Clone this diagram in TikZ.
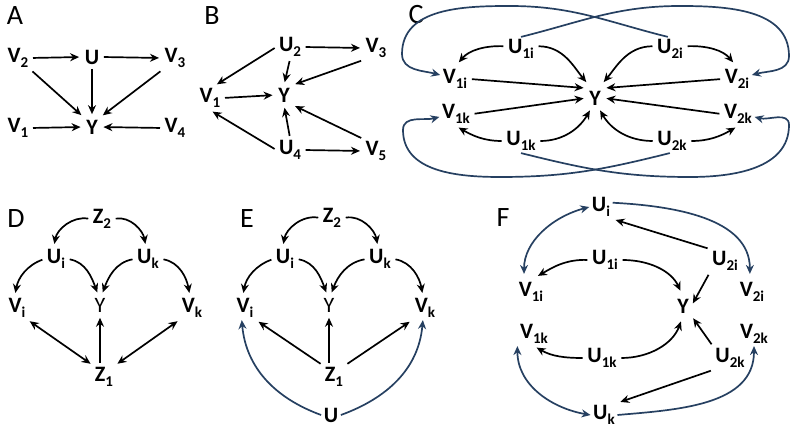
\documentclass[tikz,border=0pt]{standalone}
\usepackage{fontspec}
\setmainfont{Carlito}
\usetikzlibrary{arrows.meta}
\definecolor{bluec}{RGB}{38,64,97}
\newcommand\ssub[1]{\raisebox{-4.5pt}{\fontsize{15}{15}\selectfont #1}}
\tikzset{
  lab/.style={font=\fontsize{28}{28}\selectfont, inner sep=0pt},
  nd/.style={font=\bfseries\fontsize{22}{22}\selectfont, inner sep=2.5pt},
  ndr/.style={font=\fontsize{22}{22}\selectfont, inner sep=2.5pt},
  ar/.style={-{Stealth[length=9pt,width=8pt]}, line width=1.7pt, black, shorten >=3pt, shorten <=2pt},
  dar/.style={{Stealth[length=9pt,width=8pt]}-{Stealth[length=9pt,width=8pt]}, line width=1.7pt, black, shorten >=2pt, shorten <=2pt},
  bar/.style={-{Stealth[length=9pt,width=8pt]}, line width=1.7pt, bluec},
  bdar/.style={{Stealth[length=9pt,width=8pt]}-{Stealth[length=9pt,width=8pt]}, line width=1.7pt, bluec},
}
\begin{document}
\begin{tikzpicture}[x=1pt,y=1pt]
\useasboundingbox (0,0) rectangle (797,430);
% ---------- Panel A
\node[lab] (aLab) at (15,414) {A};
\node[nd] (aV2) at (18,372) {V\ssub{2}};
\node[nd] (aU) at (92,373) {U};
\node[nd] (aV3) at (175,372) {V\ssub{3}};
\node[nd] (aY) at (92,303) {Y};
\node[nd] (aV1) at (18,302) {V\ssub{1}};
\node[nd] (aV4) at (175,302) {V\ssub{4}};
\draw[ar] (aV2.east) -- (aU.west);
\draw[ar] (aU.east) -- (aV3.west);
\draw[ar] (aU.south) -- (aY.north);
\draw[ar] (aV2.south east) -- (aY.north west);
\draw[ar] (aV3.south west) -- (aY.north east);
\draw[ar] (aV1.east) -- (aY.west);
\draw[ar] (aV4.west) -- (aY.east);
% ---------- Panel B
\node[lab] (bLab) at (212,414) {B};
\node[nd] (bU2) at (290,383) {U\ssub{2}};
\node[nd] (bV3) at (376,382) {V\ssub{3}};
\node[nd] (bV1) at (210,332) {V\ssub{1}};
\node[nd] (bY) at (284,335) {Y};
\node[nd] (bU4) at (290,280) {U\ssub{4}};
\node[nd] (bV5) at (376,279) {V\ssub{5}};
\draw[ar] (bU2.east) -- (bV3.west);
\draw[ar] (bU2.west) -- (bV1.70);
\draw[ar] (bU2.south) -- (bY.north);
\draw[ar] (bV3.south west) -- (bY.north east);
\draw[ar] (bV1.east) -- (bY.west);
\draw[ar] (bU4.north) -- (bY.south);
\draw[ar] (bU4.west) -- (bV1.south);
\draw[ar] (bV5.north west) -- (bY.south east);
\draw[ar] (bU4.east) -- (bV5.west);
% ---------- Panel C
\node[lab] (cLab) at (416,415) {C};
\node[nd] (cU1i) at (521,381) {U\ssub{1i}};
\node[nd] (cU2i) at (670,381) {U\ssub{2i}};
\node[nd] (cV1i) at (455,351) {V\ssub{1i}};
\node[nd] (cV2i) at (737,351) {V\ssub{2i}};
\node[nd] (cY) at (595,332) {Y};
\node[nd] (cV1k) at (456,316) {V\ssub{1k}};
\node[nd] (cV2k) at (738,316) {V\ssub{2k}};
\node[nd] (cU1k) at (521,289) {U\ssub{1k}};
\node[nd] (cU2k) at (672,289) {U\ssub{2k}};
\draw[ar,shorten >=6pt] (cU1i.170) to[out=178,in=50] (cV1i.north);
\draw[ar,shorten >=8pt] (cU1i.10) to[out=0,in=130] (cY.110);
\draw[ar,shorten >=8pt] (cU2i.170) to[out=180,in=50] (cY.70);
\draw[ar,shorten >=6pt] (cU2i.10) to[out=2,in=130] (cV2i.north);
\draw[ar] (cV1i.east) -- (cY.north west);
\draw[ar] (cV2i.west) -- (cY.north east);
\draw[ar] (cV1k.east) -- (cY.west);
\draw[ar] (cV2k.west) -- (cY.east);
\draw[ar] (cU1k.west) to[out=180,in=-30] (cV1k.south);
\draw[ar] (cU1k.east) to[out=0,in=-120] (cY.-110);
\draw[ar] (cU2k.west) to[out=180,in=-60] (cY.-70);
\draw[ar] (cU2k.east) to[out=0,in=-150] (cV2k.south);
\draw[bar] (cU1i.north) to[out=14,in=180] (680,424) to[out=0,in=90] (789,374) to[out=-90,in=15] (cV2i.15);
\draw[bar] (cU2i.100) to[out=166,in=0] (510,424) to[out=180,in=90] (402,376) to[out=-90,in=165] (cV1i.165);
\draw[bar] (cU1k.south) to[out=-14,in=180] (690,253) to[out=0,in=-90] (789,305) to[out=90,in=-15] (cV2k.-10);
\draw[bar] (cU2k.-100) to[out=194,in=0] (500,253) to[out=180,in=-90] (403,300) to[out=90,in=-165] (cV1k.190);
% ---------- Panel D
\node[lab] (dLab) at (16,211) {D};
\node[nd] (dZ2) at (102,211) {Z\ssub{2}};
\node[nd] (dUi) at (56,171) {U\ssub{i}};
\node[nd] (dUk) at (148,171) {U\ssub{k}};
\node[nd] (dVi) at (17,122) {V\ssub{i}};
\node[ndr] (dY) at (100,125) {Y};
\node[nd] (dVk) at (192,122) {V\ssub{k}};
\node[nd] (dZ1) at (104,53) {Z\ssub{1}};
\draw[ar] (dZ2.west) to[out=170,in=80] (dUi.100);
\draw[ar] (dZ2.east) to[out=10,in=100] (dUk.100);
\draw[ar] (dUi.west) to[out=200,in=80] (dVi.100);
\draw[ar] (dUi.east) to[out=-10,in=110] (dY.100);
\draw[ar] (dUk.west) to[out=190,in=70] (dY.80);
\draw[ar] (dUk.east) to[out=-10,in=100] (dVk.100);
\draw[dar] (dVi.south east) -- (dZ1.north west);
\draw[ar] (dY.south |- dZ1.north) -- (dY.south);
\draw[dar] (dVk.south west) -- (dZ1.north east);
% ---------- Panel E
\node[lab] (eLab) at (247,211) {E};
\node[nd] (eZ2) at (332,212) {Z\ssub{2}};
\node[nd] (eUi) at (285,171) {U\ssub{i}};
\node[nd] (eUk) at (380,171) {U\ssub{k}};
\node[nd] (eVi) at (245,122) {V\ssub{i}};
\node[ndr] (eY) at (329,125) {Y};
\node[nd] (eVk) at (425,122) {V\ssub{k}};
\node[nd] (eZ1) at (334,53) {Z\ssub{1}};
\node[nd] (eU) at (331,15) {U};
\draw[ar] (eZ2.west) to[out=170,in=80] (eUi.100);
\draw[ar] (eZ2.east) to[out=10,in=100] (eUk.100);
\draw[ar] (eUi.west) to[out=200,in=80] (eVi.100);
\draw[ar] (eUi.east) to[out=-10,in=110] (eY.100);
\draw[ar] (eUk.west) to[out=190,in=70] (eY.80);
\draw[ar] (eUk.east) to[out=-10,in=100] (eVk.100);
\draw[ar] (eZ1.north west) -- (eVi.south east);
\draw[ar] (eY.south |- eZ1.north) -- (eY.south);
\draw[ar] (eZ1.north east) -- (eVk.south west);
\draw[bar] (eU.west) to[out=160,in=-85] (eVi.-105);
\draw[bar] (eU.east) to[out=20,in=-95] (eVk.-100);
% ---------- Panel F
\node[lab] (fLab) at (503,212) {F};
\node[nd] (fUi) at (601,223) {U\ssub{i}};
\node[nd] (fU1i) at (605,170) {U\ssub{1i}};
\node[nd] (fU2i) at (725,169) {U\ssub{2i}};
\node[nd] (fV1i) at (531,138) {V\ssub{1i}};
\node[nd] (fV2i) at (752,138) {V\ssub{2i}};
\node[nd] (fY) at (683,124) {Y};
\node[nd] (fV1k) at (534,96) {V\ssub{1k}};
\node[nd] (fV2k) at (754,96) {V\ssub{2k}};
\node[nd] (fU1k) at (602,72) {U\ssub{1k}};
\node[nd] (fU2k) at (730,72) {U\ssub{2k}};
\node[nd] (fUk) at (604,15) {U\ssub{k}};
\draw[ar] (fU2i.north west) -- (fUi.south east);
\draw[ar,shorten >=8pt] (fU1i.west) to[out=178,in=30] (fV1i.north);
\draw[ar,shorten >=6pt] (fU1i.east) to[out=0,in=115] (fY.north);
\draw[ar] (fU2i.south west) -- (fY.east);
\draw[ar] (fU1k.west) to[out=180,in=-30] (fV1k.south);
\draw[ar,shorten >=6pt] (fU1k.east) to[out=0,in=-110] (fY.south);
\draw[ar] (fU2k.north west) -- (fY.south east);
\draw[ar] (fU2k.south west) -- (fUk.north east);
\draw[bdar,shorten >=6pt] (fUi.west) to[out=195,in=90] (fV1i.120);
\draw[bar,shorten >=6pt] (fUi.20) to[out=-3,in=90] (fV2i.100);
\draw[bdar] (fV1k.south west) to[out=-90,in=170] (fUk.west);
\draw[bar] (fUk.east) to[out=5,in=-90] (fV2k.south);
\end{tikzpicture}
\end{document}
